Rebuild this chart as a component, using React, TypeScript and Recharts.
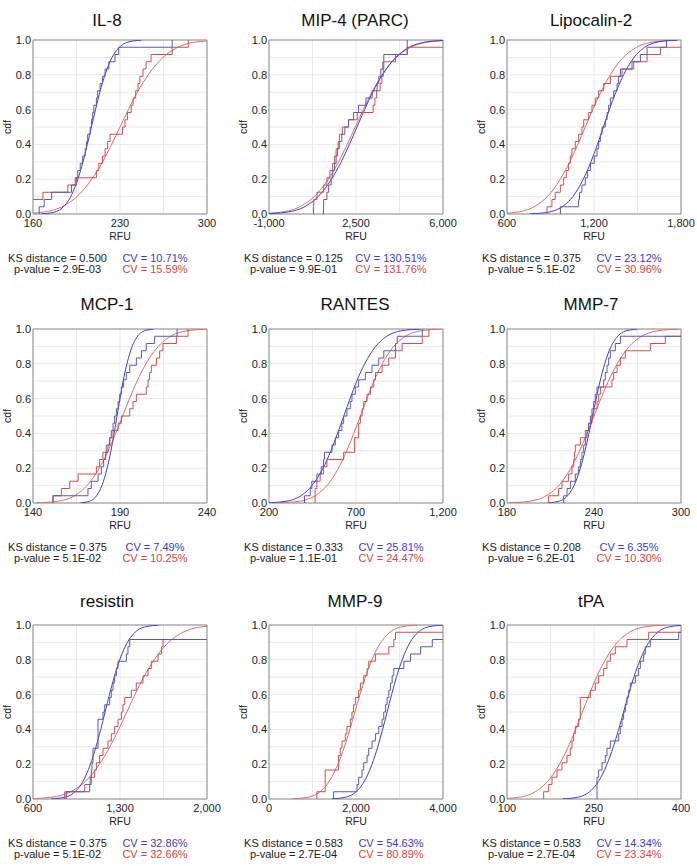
import React from 'react'
import { CartesianGrid, Label, Line, LineChart, ReferenceArea, XAxis, YAxis } from 'recharts'

const blueCurveColor = '#3f3fc6'
const blueStepColor = '#5858b8'
const redCurveColor = '#e06a6a'
const redStepColor = '#cf4e4e'
const blueText = '#3a3acc'
const redText = '#d94343'
const font = '"Liberation Sans", Arial, sans-serif'

const cdfLevels = [0.001, 0.01, 0.05, 0.1, 0.2, 0.3, 0.4, 0.5, 0.6, 0.7, 0.8, 0.9, 0.95, 0.99, 0.999]
const yTicks = [0, 0.1, 0.2, 0.3, 0.4, 0.5, 0.6, 0.7, 0.8, 0.9, 1]

const titles = ['IL-8', 'MIP-4 (PARC)', 'Lipocalin-2', 'MCP-1', 'RANTES', 'MMP-7', 'resistin', 'MMP-9', 'tPA']
const ksDistances = ['0.500', '0.125', '0.375', '0.375', '0.333', '0.208', '0.375', '0.583', '0.583']
const pValues = ['2.9E-03', '9.9E-01', '5.1E-02', '5.1E-02', '1.1E-01', '6.2E-01', '5.1E-02', '2.7E-04', '2.7E-04']
const cvBlue = ['10.71%', '130.51%', '23.12%', '7.49%', '25.81%', '6.35%', '32.86%', '54.63%', '14.34%']
const cvRed = ['15.59%', '131.76%', '30.96%', '10.25%', '24.47%', '10.30%', '32.66%', '80.89%', '23.34%']

const xTicks = [
    [160, 195, 230, 265, 300],
    [-1000, 750, 2500, 4250, 6000],
    [600, 900, 1200, 1500, 1800],
    [140, 165, 190, 215, 240],
    [200, 450, 700, 950, 1200],
    [180, 210, 240, 270, 300],
    [600, 950, 1300, 1650, 2000],
    [0, 1000, 2000, 3000, 4000],
    [100, 175, 250, 325, 400],
]

// sorted sample values (RFU) behind each empirical cdf
const blueSteps = [
    [165, 169, 175, 191, 194, 196, 198, 200, 202, 203, 204, 206, 207, 208, 209, 211, 212, 214, 216, 218, 221, 226, 229, 272],
    [1190, 1200, 1330, 1400, 1500, 1560, 1640, 1700, 1760, 1830, 1930, 2050, 2200, 2400, 2600, 2900, 3150, 3350, 3420, 3500, 3580, 3620, 4560, 4560],
    [968, 1094, 1100, 1117, 1140, 1156, 1175, 1202, 1221, 1232, 1244, 1255, 1278, 1290, 1301, 1313, 1336, 1359, 1370, 1382, 1462, 1520, 1566, 1700],
    [151.5, 171.6, 173.5, 177.4, 179.3, 180.6, 181.8, 183.1, 184.1, 185, 186, 186.9, 187.9, 188.9, 189.8, 190.8, 192.1, 193.6, 195.6, 199.4, 202.3, 205.1, 209.9, 222.8],
    [404, 437, 446, 475, 500, 513, 519, 562, 581, 600, 619, 629, 648, 667, 677, 696, 715, 754, 792, 831, 860, 927, 937, 1081],
    [219.1, 221.4, 223.7, 227.1, 229.4, 230.6, 231.7, 232.9, 234, 235.2, 236.3, 237.5, 238.6, 239.8, 240.9, 242.1, 246.7, 247.8, 249, 250.1, 251.3, 254.7, 258.2, 310],
    [868, 1056, 1060, 1070, 1075, 1083, 1083, 1123, 1123, 1123, 1123, 1163, 1177, 1217, 1230, 1244, 1257, 1271, 1284, 1351, 1364, 1378, 2100, 2100],
    [1485, 2023, 2062, 2138, 2177, 2254, 2292, 2369, 2446, 2523, 2600, 2638, 2677, 2715, 2754, 2792, 2831, 2869, 3100, 3254, 3485, 3754, 4500, 4500],
    [255.2, 255.2, 255.2, 258, 263.8, 269.5, 272.4, 278.2, 292.5, 295.4, 298.3, 301.1, 304, 306.9, 309.8, 312.6, 321.3, 327, 329.9, 335.6, 338.5, 347.1, 396, 420],
]

const redSteps = [
    [150, 155, 168, 188, 195, 211, 213, 216, 218, 220, 222, 232, 234, 236, 239, 240.5, 242.6, 244.5, 246, 248.5, 251, 255, 272, 285],
    [790, 800, 930, 1200, 1330, 1450, 1560, 1640, 1700, 1780, 1830, 1950, 2200, 2550, 3190, 3260, 3330, 3470, 3540, 3600, 3620, 4090, 4560, 6500],
    [876, 910, 933, 968, 991, 1009, 1025, 1037, 1048, 1071, 1094, 1117, 1129, 1163, 1186, 1209, 1232, 1267, 1313, 1393, 1474, 1566, 1658, 1900],
    [151.5, 156.3, 161.1, 165.9, 176.4, 178.3, 180.2, 182.1, 184.1, 186, 188.9, 190.8, 195.6, 197.5, 199.4, 205.1, 206.1, 207, 208, 210.9, 212.8, 214.7, 222.4, 229.1],
    [465, 465, 475, 494, 513, 533, 629, 692, 692, 715, 715, 725, 735, 744, 763, 783, 802, 812, 850, 888, 927, 965, 1081, 1119],
    [208.7, 215.6, 217.9, 222.5, 224.8, 226, 226.5, 227.1, 230.6, 234, 236.3, 238.6, 239.8, 242.1, 243.2, 244.4, 252.4, 253.6, 255.9, 258.2, 261.6, 278.9, 289.2, 310],
    [855, 1016, 1069, 1096, 1110, 1136, 1163, 1203, 1230, 1257, 1284, 1311, 1324, 1338, 1391, 1431, 1485, 1525, 1552, 1606, 1633, 1646, 2100, 2100],
    [1100, 1292, 1292, 1292, 1600, 1600, 1638, 1677, 1754, 1792, 1869, 1908, 1946, 1985, 2062, 2100, 2177, 2254, 2292, 2446, 2754, 2869, 2908, 4500],
    [163.2, 171.8, 177.6, 186.2, 194.8, 203.4, 209.2, 212.1, 214.9, 217.8, 223.6, 226.4, 226.4, 226.4, 243.7, 252.3, 258, 266.7, 272.4, 278.2, 286.8, 306.9, 344.2, 420],
]

// x positions of the fitted curves at each cdf level
const blueCurves = [
    [166.8, 176.7, 185.6, 190.4, 196.1, 200.2, 203.7, 207, 210.3, 213.8, 217.9, 223.6, 228.4, 237.3, 247.2],
    [-1230, -303, 533, 978, 1515, 1906, 2235, 2540, 2845, 3174, 3565, 4102, 4547, 5383, 6310],
    [755, 881, 994, 1054, 1126, 1179, 1224, 1265, 1306, 1351, 1404, 1476, 1536, 1649, 1775],
    [167.3, 172.5, 177.1, 179.6, 182.6, 184.8, 186.6, 188.3, 190, 191.8, 194, 197, 199.5, 204.1, 209.3],
    [188, 297, 395, 447, 510, 556, 594, 630, 666, 704, 750, 813, 865, 963, 1072],
    [208.1, 215.7, 222.6, 226.2, 230.6, 233.8, 236.5, 239, 241.5, 244.2, 247.4, 251.8, 255.5, 262.3, 269.9],
    [747, 854, 950, 1001, 1062, 1107, 1145, 1180, 1215, 1253, 1298, 1359, 1410, 1506, 1613],
    [1442, 1755, 2037, 2188, 2369, 2501, 2612, 2715, 2818, 2929, 3061, 3242, 3393, 3675, 3988],
    [196, 221.8, 245.1, 257.5, 272.4, 283.3, 292.5, 301, 309.5, 318.7, 329.6, 344.5, 356.9, 380.2, 406],
]

const redCurves = [
    [146.6, 167.1, 185.6, 195.4, 207.3, 216, 223.3, 230, 236.7, 244, 252.7, 264.6, 274.4, 292.9, 313.4],
    [-1516, -536, 348, 819, 1386, 1799, 2147, 2470, 2793, 3141, 3554, 4121, 4592, 5476, 6456],
    [507, 662, 803, 878, 968, 1033, 1089, 1140, 1191, 1247, 1312, 1402, 1477, 1618, 1773],
    [142.1, 154.2, 165.2, 171, 178.1, 183.2, 187.5, 191.5, 195.5, 199.8, 204.9, 212, 217.8, 228.8, 240.9],
    [261, 375, 478, 533, 599, 647, 687, 725, 763, 803, 851, 917, 972, 1075, 1189],
    [181.3, 195.7, 208.7, 215.7, 224, 230.1, 235.25, 240, 244.75, 249.9, 256, 264.3, 271.3, 284.3, 298.7],
    [545, 745, 924, 1020, 1135, 1219, 1289.5, 1355, 1420.5, 1491, 1575, 1690, 1786, 1965, 2165],
    [538, 892, 1210, 1380, 1584, 1733, 1859, 1975, 2091, 2217, 2366, 2570, 2740, 3058, 3412],
    [85, 120.5, 152.7, 169.8, 190.5, 205.6, 218.25, 230, 241.75, 254.4, 269.5, 290.2, 307.3, 339.5, 375],
]

const plotLeft = [33, 269, 507]
const plotTop = [40, 329, 625]
const titleCenter = [107, 355, 591]
const titleGap = [19, 24, 23]
const plotSize = 174

const toSteps = (vals: number[]) => [
    { x: vals[0], y: 0 },
    ...vals.map((v, i) => ({ x: v, y: (i + 1) / vals.length })),
]
const toCurve = (xs: number[]) => xs.map((x, i) => ({ x, y: cdfLevels[i] }))

const fmtX = (v: number, i: number) => (i % 2 === 0 ? v.toLocaleString('en-US') : '')
const fmtY = (v: number) => (Math.round(v * 10) % 2 === 0 ? v.toFixed(1) : '')

const Panel: React.FC<{ idx: number }> = ({ idx }) => {
    const col = idx % 3
    const row = Math.floor(idx / 3)
    const left = plotLeft[col]
    const top = plotTop[row]
    const bottom = top + plotSize
    const ticks = xTicks[idx]
    const domain = [ticks[0], ticks[ticks.length - 1]]
    const tickStyle = { fontSize: 11, fill: '#222', fontFamily: font }

    return (
        <>
            <div style={{ position: 'absolute', left: titleCenter[col] - 100, width: 200, top: top - titleGap[row] - 11, height: 22, lineHeight: '22px', textAlign: 'center', fontSize: 17, fontFamily: font, color: '#111' }}>
                {titles[idx]}
            </div>
            <div style={{ position: 'absolute', left: left - 38, top: top - 6 }}>
                <LineChart width={240} height={220} margin={{ top: 6, right: 28, bottom: 0, left: 0 }}>
                    <CartesianGrid stroke='#e9e9e9' />
                    <XAxis dataKey='x' type='number' domain={domain} ticks={ticks} interval={0} allowDataOverflow
                        tickFormatter={fmtX} tick={tickStyle} tickLine={false} axisLine={false} tickSize={0} tickMargin={5} height={40}>
                        <Label value='RFU' position='insideBottom' offset={14} style={{ fontSize: 10.5, fill: '#222', fontFamily: font }} />
                    </XAxis>
                    <YAxis dataKey='y' type='number' domain={[0, 1]} ticks={yTicks} interval={0} allowDataOverflow
                        tickFormatter={fmtY} tick={tickStyle} tickLine={false} axisLine={false} tickSize={0} tickMargin={2} width={38}>
                        <Label value='cdf' angle={-90} position='insideLeft' offset={12} style={{ fontSize: 10.5, fill: '#222', fontFamily: font, textAnchor: 'middle' }} />
                    </YAxis>
                    <ReferenceArea x1={domain[0]} x2={domain[1]} y1={0} y2={1} fill='none' stroke='#8c8c8c' strokeWidth={1} />
                    <Line data={toCurve(redCurves[idx])} dataKey='y' type='monotone' stroke={redCurveColor} strokeWidth={1} dot={false} activeDot={false} isAnimationActive={false} />
                    <Line data={toCurve(blueCurves[idx])} dataKey='y' type='monotone' stroke={blueCurveColor} strokeWidth={1} dot={false} activeDot={false} isAnimationActive={false} />
                    <Line data={toSteps(redSteps[idx])} dataKey='y' type='stepAfter' stroke={redStepColor} strokeWidth={1} dot={false} activeDot={false} isAnimationActive={false} />
                    <Line data={toSteps(blueSteps[idx])} dataKey='y' type='stepAfter' stroke={blueStepColor} strokeWidth={1} dot={false} activeDot={false} isAnimationActive={false} />
                </LineChart>
            </div>
            <div style={{ position: 'absolute', left: left + 24.5 - 80, width: 160, top: bottom + 44.5 - 6, lineHeight: '11.5px', textAlign: 'center', fontSize: 11, fontFamily: font, color: '#222' }}>
                <div>KS distance = {ksDistances[idx]}</div>
                <div>p-value = {pValues[idx]}</div>
            </div>
            <div style={{ position: 'absolute', left: left + 122 - 60, width: 120, top: bottom + 44.5 - 6, lineHeight: '11.5px', textAlign: 'center', fontSize: 11, fontFamily: font }}>
                <div style={{ color: blueText }}>CV = {cvBlue[idx]}</div>
                <div style={{ color: redText }}>CV = {cvRed[idx]}</div>
            </div>
        </>
    )
}

const App: React.FC = () => {
    return (
        <div style={{ position: 'absolute', left: 0, top: 0, width: 697, height: 866, background: '#fff' }}>
            {titles.map((t, i) => <Panel key={t} idx={i} />)}
        </div>
    )
}

export default App
